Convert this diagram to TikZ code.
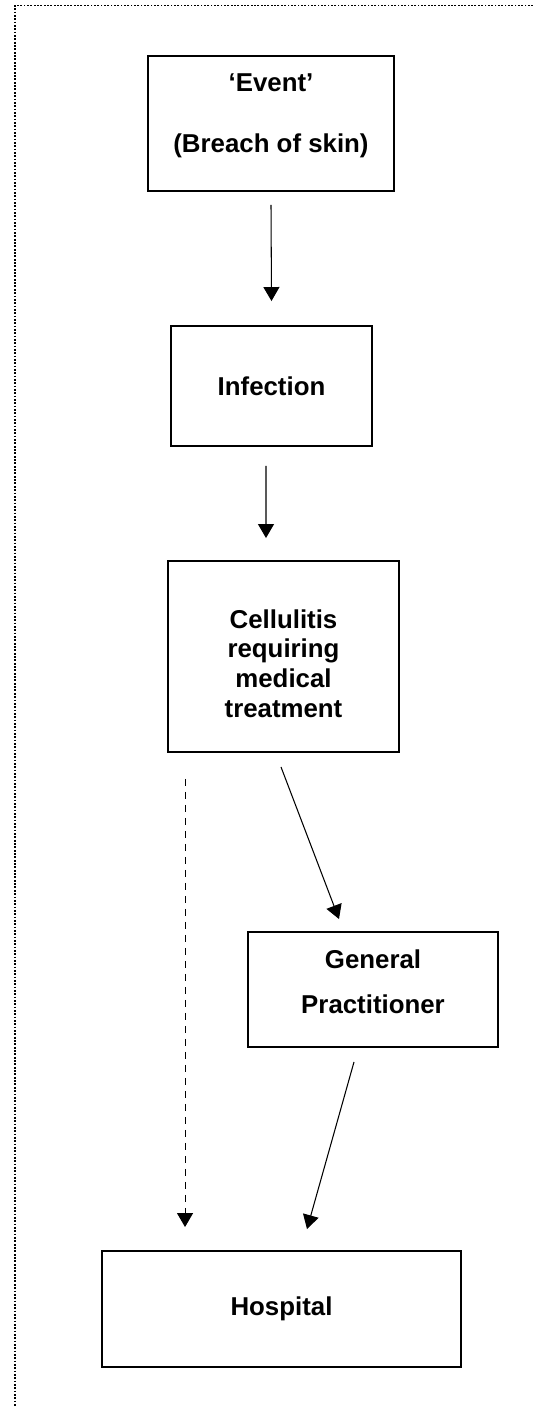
\documentclass[tikz,border=0pt]{standalone}
\usepackage{fontspec}
\setmainfont{Liberation Sans}
\usetikzlibrary{arrows.meta}

\begin{document}
\begin{tikzpicture}[
font=\fontsize{14.7}{17}\selectfont\bfseries,
flowbox/.style={draw, line width=1.1pt, align=center, inner sep=0pt},
flow/.style={line width=0.6pt, -{Triangle[length=0.28cm,width=0.32cm]}}
]

\useasboundingbox (0,0) rectangle (10.66,-28.12);

%%%%%%%%%%%%%%%%%%%%%%%%%%%%%%%%%%%%%%%%%%%%%%%%%%%%%%%%%%%%%%
% DOTTED FRAME
%%%%%%%%%%%%%%%%%%%%%%%%%%%%%%%%%%%%%%%%%%%%%%%%%%%%%%%%%%%%%%

\coordinate (frametr) at (10.66,-0.11);
\coordinate (frametl) at (0.3,-0.11);
\coordinate (framebl) at (0.3,-28.12);

\draw[line width=1pt, dash pattern=on 1pt off 0.9pt]
(frametr) -- (frametl) -- (framebl);

%%%%%%%%%%%%%%%%%%%%%%%%%%%%%%%%%%%%%%%%%%%%%%%%%%%%%%%%%%%%%%
% PATHWAY BOXES
%%%%%%%%%%%%%%%%%%%%%%%%%%%%%%%%%%%%%%%%%%%%%%%%%%%%%%%%%%%%%%

\node[
flowbox,
minimum width=4.92cm,
minimum height=2.7cm,
text depth=0.41cm
](event)
at (5.42,-2.47)
{‘Event’\\[17.7pt](Breach of skin)};

\node[
flowbox,
minimum width=4.02cm,
minimum height=2.4cm
](infection)
at (5.43,-7.72)
{Infection};

\node[
flowbox,
minimum width=4.62cm,
minimum height=3.82cm
](cellulitis)
at (5.67,-13.13)
{\rule{0pt}{0.66cm}Cellulitis\\requiring\\medical\\treatment};

\node[
flowbox,
minimum width=5cm,
minimum height=2.3cm,
text depth=0.32cm
](gp)
at (7.46,-19.79)
{General\\[8.6pt]Practitioner};

\node[
flowbox,
minimum width=7.18cm,
minimum height=2.32cm
](hospital)
at (5.63,-26.18)
{Hospital};

%%%%%%%%%%%%%%%%%%%%%%%%%%%%%%%%%%%%%%%%%%%%%%%%%%%%%%%%%%%%%%
% CONNECTIONS
%%%%%%%%%%%%%%%%%%%%%%%%%%%%%%%%%%%%%%%%%%%%%%%%%%%%%%%%%%%%%%

\draw[flow] ([yshift=-0.26cm]event.south)
-- ([yshift=0.48cm]infection.north);

\draw[flow] ([xshift=-0.11cm,yshift=-0.38cm]infection.south)
-- ([xshift=-0.35cm,yshift=0.44cm]cellulitis.north);

\draw[flow] ([xshift=-0.05cm,yshift=-0.28cm]cellulitis.south)
-- ([xshift=-0.68cm,yshift=0.24cm]gp.north);

\draw[flow, dash pattern=on 0.14cm off 0.12cm]
([xshift=0.36cm,yshift=-0.52cm]cellulitis.south west)
-- ([xshift=1.68cm,yshift=0.46cm]hospital.north west);

\draw[flow] ([xshift=-0.38cm,yshift=-0.28cm]gp.south)
-- ([xshift=0.51cm,yshift=0.42cm]hospital.north);

\end{tikzpicture}
\end{document}
